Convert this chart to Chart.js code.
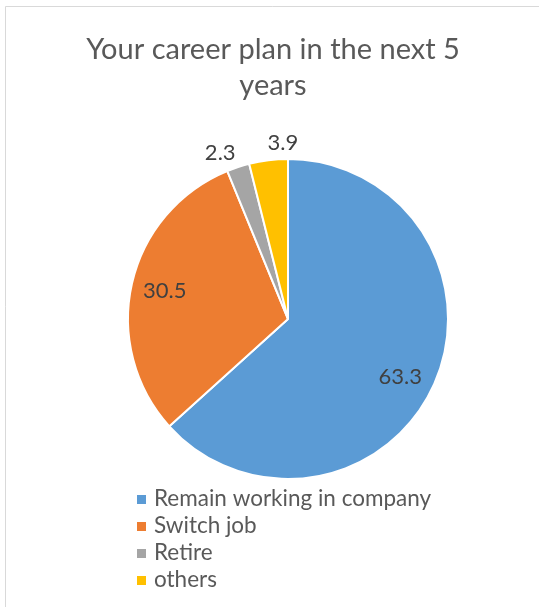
<!DOCTYPE html>
<html>
<head>
<meta charset="utf-8">
<title>Career plan</title>
<script src="https://cdn.jsdelivr.net/npm/chart.js@4.4.1/dist/chart.umd.min.js"></script>
<style>
    html, body { margin: 0; padding: 0; background: #fff; overflow: hidden; }
    canvas { display: block; }
</style>
</head>
<body>
<canvas id="careerChart" width="539" height="607"></canvas>
<script>
const titleLines = ["Your career plan in the next 5", "years"];
const plans = ["Remain working in company", "Switch job", "Retire", "others"];
const shares = [63.3, 30.5, 2.3, 3.9];
const sliceColors = ["#5B9BD5", "#ED7D31", "#A5A5A5", "#FFC000"];

const FONT = "Lato, 'Open Sans', sans-serif";

// white background plus the light frame line on the left and top
const framePlugin = {
    id: "frame",
    beforeDraw(chart) {
        let ctx = chart.ctx;
        ctx.save();
        ctx.fillStyle = "#fff";
        ctx.fillRect(0, 0, chart.width, chart.height);
        ctx.strokeStyle = "#d9d9d9";
        ctx.lineWidth = 1;
        ctx.beginPath();
        ctx.moveTo(5.5, chart.height);
        ctx.lineTo(5.5, 6.5);
        ctx.lineTo(chart.width, 6.5);
        ctx.stroke();
        ctx.restore();
    }
};

// title centred on the frame, not on the pie
const titlePlugin = {
    id: "frameTitle",
    afterDraw(chart) {
        let ctx = chart.ctx;
        ctx.save();
        ctx.font = "29px " + FONT;
        ctx.fillStyle = "#595959";
        ctx.textAlign = "center";
        ctx.textBaseline = "alphabetic";
        titleLines.forEach((line, i) => {
            ctx.fillText(line, 273, 59 + i * 36);
        });
        ctx.restore();
    }
};

// vertical legend under the pie
const listLegendPlugin = {
    id: "listLegend",
    afterDraw(chart) {
        let ctx = chart.ctx;
        let meta = chart.getDatasetMeta(0);
        ctx.save();
        ctx.font = "22.5px " + FONT;
        ctx.textAlign = "left";
        ctx.textBaseline = "alphabetic";
        chart.data.labels.forEach((label, i) => {
            let baseline = 506 + i * 27;
            ctx.fillStyle = meta.data[i].options.backgroundColor;
            ctx.fillRect(137, baseline - 11, 9, 9);
            ctx.fillStyle = "#595959";
            ctx.fillText(label, 154, baseline);
        });
        ctx.restore();
    }
};

// value labels: inside for big slices, outside end for the thin ones
const valueLabelPlugin = {
    id: "valueLabels",
    afterDatasetsDraw(chart) {
        let ctx = chart.ctx;
        let meta = chart.getDatasetMeta(0);
        let values = chart.data.datasets[0].data;
        let outside = [];
        values.forEach((v, i) => { if (v < 5) outside.push(i); });

        ctx.save();
        ctx.font = "22px " + FONT;
        ctx.fillStyle = "#404040";
        meta.data.forEach((arc, i) => {
            let p = arc.getProps(["x", "y", "startAngle", "endAngle", "outerRadius"], true);
            let mid = (p.startAngle + p.endAngle) / 2;
            let text = String(values[i]);
            if (outside.includes(i)) {
                let r = p.outerRadius + 8;
                let last = outside[outside.length - 1] === i;
                ctx.textAlign = last ? "left" : "right";
                ctx.textBaseline = "bottom";
                ctx.fillText(text, p.x + Math.cos(mid) * r, p.y + Math.sin(mid) * r + (last ? 2 : 5));
            } else {
                let r = p.outerRadius * 0.79;
                let a = mid + (Math.cos(mid) > 0 ? 0.06 : 0);
                ctx.textAlign = "center";
                ctx.textBaseline = "middle";
                ctx.fillText(text, p.x + Math.cos(a) * r, p.y + Math.sin(a) * r);
            }
        });
        ctx.restore();
    }
};

let ctx = document.getElementById("careerChart").getContext("2d");
new Chart(ctx, {
    type: "pie",
    data: {
        labels: plans,
        datasets: [{
            data: shares,
            backgroundColor: sliceColors,
            borderColor: "#fff",
            borderWidth: 2
        }]
    },
    options: {
        responsive: false,
        devicePixelRatio: 1,
        animation: false,
        layout: {
            padding: { left: 127, right: 90, top: 158, bottom: 127 }
        },
        plugins: {
            legend: { display: false },
            title: { display: false },
            tooltip: { enabled: false }
        }
    },
    plugins: [framePlugin, valueLabelPlugin, titlePlugin, listLegendPlugin]
});
</script>
</body>
</html>
